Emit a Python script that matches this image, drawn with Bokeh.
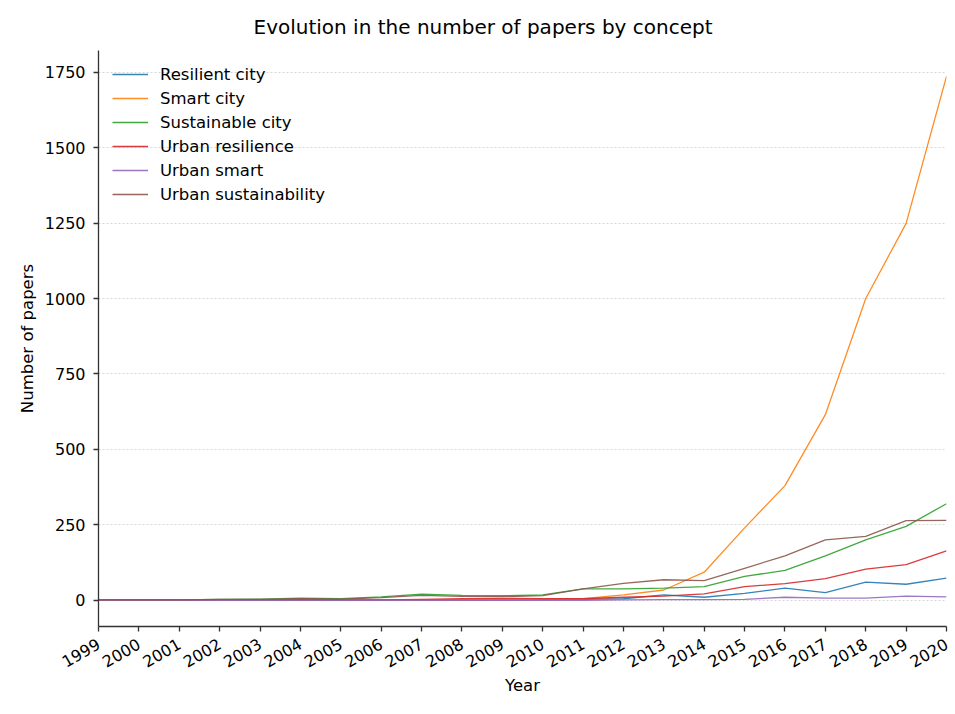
import math
from bokeh.plotting import figure
from bokeh.models import Range1d, FixedTicker, Legend, LegendItem
from bokeh.embed import file_html
from bokeh.resources import INLINE

years = [1999, 2000, 2001, 2002, 2003, 2004, 2005, 2006, 2007, 2008, 2009,
         2010, 2011, 2012, 2013, 2014, 2015, 2016, 2017, 2018, 2019, 2020]

resilient_city = [0, 0, 0, 0, 0, 0, 0, 0, 1, 1, 1, 2, 3, 5, 18, 10, 23, 40, 25, 60, 53, 73]
smart_city = [0, 0, 0, 0, 0, 0, 0, 0, 0, 0, 1, 4, 5, 18, 34, 93, 240, 380, 615, 1000, 1249, 1736]
sustainable_city = [1, 2, 1, 3, 4, 7, 5, 11, 20, 16, 15, 18, 38, 38, 40, 45, 79, 99, 147, 200, 245, 320]
urban_resilience = [0, 0, 0, 1, 1, 1, 1, 1, 3, 5, 6, 5, 5, 10, 14, 21, 45, 55, 72, 103, 118, 164]
urban_smart = [0, 0, 0, 0, 0, 0, 0, 0, 0, 0, 0, 0, 0, 1, 2, 2, 3, 10, 7, 7, 14, 11]
urban_sustainability = [1, 1, 1, 3, 3, 5, 4, 9, 16, 13, 12, 15, 38, 56, 68, 65, 106, 147, 200, 212, 264, 265]

series_names = ["Resilient city", "Smart city", "Sustainable city",
                "Urban resilience", "Urban smart", "Urban sustainability"]
series_values = [resilient_city, smart_city, sustainable_city,
                 urban_resilience, urban_smart, urban_sustainability]
colors = ["#1f77b4", "#ff7f0e", "#2ca02c", "#d62728", "#9467bd", "#8c564b"]

y_ticks = [0, 250, 500, 750, 1000, 1250, 1500, 1750]
title_text = "Evolution in the number of papers by concept"

FONT = "DejaVu Sans"

p = figure(width=950, height=710, output_backend="svg", toolbar_location=None,
           x_range=Range1d(1999, 2020), y_range=Range1d(-87, 1822),
           min_border_left=98, min_border_right=4, min_border_top=50, min_border_bottom=84)

p.title.text = title_text
p.title.text_font = FONT
p.title.text_font_size = "20px"
p.title.text_font_style = "normal"
p.title.text_color = "#000000"
p.title.align = "left"
p.title.offset = 155
p.title.standoff = 23

p.outline_line_color = None
p.background_fill_color = "white"
p.border_fill_color = "white"

renderers = []
for name, vals, col in zip(series_names, series_values, colors):
    r = p.line(years, vals, line_color=col, line_width=1.3, line_alpha=0.9)
    renderers.append((name, r))

legend = Legend(items=[LegendItem(label=n, renderers=[r]) for n, r in renderers],
                location="top_left")
legend.background_fill_alpha = 0
legend.border_line_color = None
legend.label_text_font = FONT
legend.label_text_font_size = "16.5px"
legend.label_text_color = "#000000"
legend.glyph_width = 36
legend.spacing = 4
legend.label_height = 20
legend.glyph_height = 20
legend.margin = 14
legend.padding = 4
legend.label_standoff = 12
p.add_layout(legend)

# axes
p.xaxis.ticker = FixedTicker(ticks=years)
p.yaxis.ticker = FixedTicker(ticks=y_ticks)
p.xaxis.major_label_orientation = math.pi / 6
for ax in (p.xaxis[0], p.yaxis[0]):
    ax.major_label_text_font = FONT
    ax.major_label_text_font_size = "16px"
    ax.major_label_text_color = "#000000"
    ax.axis_label_text_font = FONT
    ax.axis_label_text_font_size = "16.5px"
    ax.axis_label_text_font_style = "normal"
    ax.axis_label_text_color = "#000000"
    ax.axis_line_color = "#333333"
    ax.axis_line_width = 1.3
    ax.major_tick_line_color = "#333333"
    ax.major_tick_line_width = 1.3
    ax.major_tick_out = 5
    ax.major_tick_in = 0
    ax.minor_tick_line_color = None
p.yaxis.major_label_standoff = 8
p.xaxis.major_label_standoff = 11
p.xaxis.axis_label_standoff = 0
p.xaxis.axis_label = "Year"
p.yaxis.axis_label = "Number of papers"

p.xgrid.grid_line_color = None
p.ygrid.grid_line_color = "#cccccc"
p.ygrid.grid_line_dash = "2 2"
p.ygrid.grid_line_width = 0.8

open("out.html", "w").write(file_html(p, INLINE))
